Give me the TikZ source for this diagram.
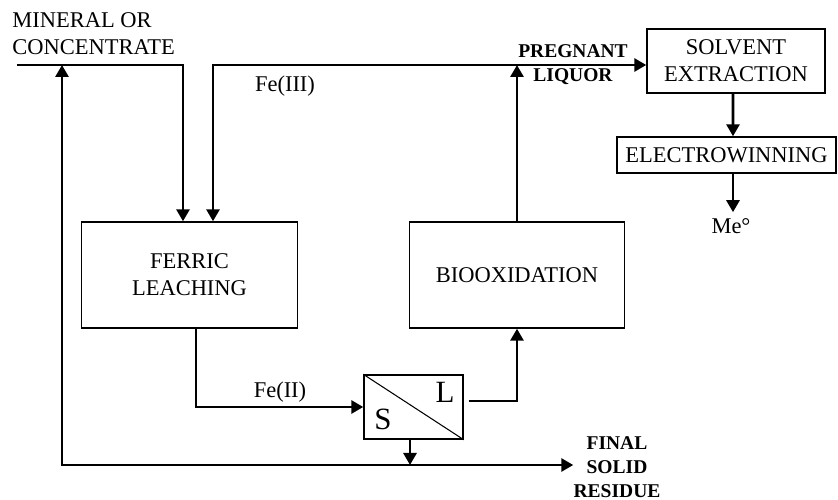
\documentclass[tikz,border=0pt]{standalone}
\usepackage{fontspec}
\setmainfont{Liberation Serif}
\usetikzlibrary{arrows.meta,positioning,calc}

\begin{document}
\begin{tikzpicture}[
  >={Triangle[length=0.24cm,width=0.26cm]},
  every node/.style={font=\fontsize{12.8}{15.4}\selectfont},
  unit/.style={draw, line width=0.8pt, minimum width=4.31cm, minimum height=2.12cm,
               align=center, inner sep=0pt},
  flow/.style={line width=1.6pt, ->},
  tag/.style={font=\fontsize{11.1}{13.6}\selectfont\bfseries, align=center, inner sep=0pt}
]
\useasboundingbox (0,0) rectangle (16.76,-10);

% process units
\node[unit] (ferric) at (3.79,-5.50) {FERRIC\\LEACHING};
\node[unit] (bio)    at (10.34,-5.50) {BIOOXIDATION};
\node[unit, minimum width=3.56cm, minimum height=1.28cm] (sx) at (14.72,-1.22) {SOLVENT\\EXTRACTION};
\node[unit, minimum width=4.38cm, minimum height=0.72cm] (ew) at (14.53,-3.10) {ELECTROWINNING};

% solid/liquid separator
\node[unit, minimum width=1.98cm, minimum height=1.28cm] (sep) at (8.27,-8.14) {};
\draw[line width=0.6pt] (sep.north west) -- (sep.south east);
\node[font=\fontsize{17.6}{20}\selectfont] (ssol) at (7.66,-8.38) {S};
\node[font=\fontsize{17.6}{20}\selectfont] (sliq) at (8.90,-7.84) {L};

% stream labels
\node[align=left, anchor=west, inner sep=0pt] (feedtxt) at (0.24,-0.67) {MINERAL OR\\CONCENTRATE};
\node (fe3)   at (5.70,-1.72) {Fe(III)};
\node (fe2)   at (5.60,-7.84) {Fe(II)};
\node (metal) at (14.62,-4.52) {Me°};
\node[tag] (preg) at (11.46,-1.30) {PREGNANT\\LIQUOR};
\node[tag] (res)  at (12.34,-9.34) {FINAL\\SOLID\\RESIDUE};

% junction points
\coordinate (feed)  at (0.34,-1.30);
\coordinate (top)   at (bio.north |- feed);
\coordinate (rec)   at (1.24,-9.30);
\coordinate (sdrop) at ([xshift=-0.07cm]sep.south);
\coordinate (ewout) at ([xshift=0.13cm]ew.south);

% streams
\draw[flow] (feed) -| ([xshift=-0.13cm]ferric.north);
\draw[flow,<->] ([xshift=0.47cm]ferric.north) |- (top -| sx.west);
\draw[flow] (bio.north) -- (top);
\draw[flow,<->] (rec |- feed) -- (rec) -- (rec -| res.west);
\draw[flow] ([xshift=0.13cm]ferric.south) |- (sep.west);
\draw[flow, shorten <=0.1cm] ([yshift=0.12cm]sep.east) -| (bio.south);
\draw[flow] (sdrop) -- (sdrop |- rec);
\draw[flow] ([xshift=-0.06cm]sx.south) -- ([xshift=0.13cm]ew.north);
\draw[flow] (ewout) -- (ewout |- metal.north);
\end{tikzpicture}
\end{document}
